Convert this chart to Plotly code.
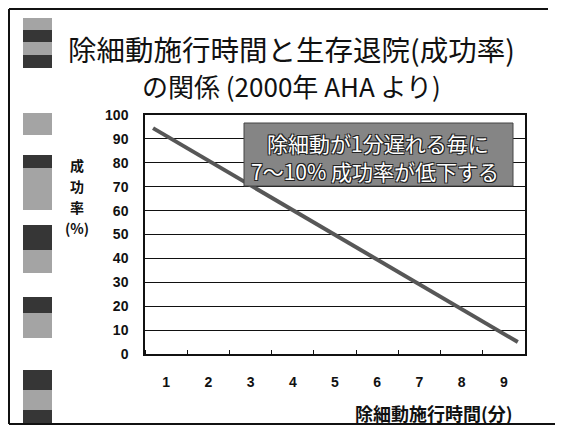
import plotly.graph_objects as go

# ---- data ----
minutes = [1, 2, 3, 4, 5, 6, 7, 8, 9]
minute_labels = ["1", "2", "3", "4", "5", "6", "7", "8", "9"]
y_ticks = [0, 10, 20, 30, 40, 50, 60, 70, 80, 90, 100]
trend_x = [0.69, 9.33]      # ends of the drawn trend line (minutes)
trend_y = [94.5, 5.0]       # success rate (%) at those ends

title_line1 = "除細動施行時間と生存退院(成功率)"
title_line2 = "の関係 (2000年 AHA より)"
box_lines = ["除細動が1分遅れる毎に", "7〜10% 成功率が低下する"]
x_title = "除細動施行時間(分)"
y_title_chars = ["成", "功", "率", "(%)"]

# page offset (body margin) compensation
OFF = 8
W, H = 563 - OFF, 428 - OFF
L, R, T, B = 145, 525, 115, 354   # plot area in window pixels


def px(xp):
    return (xp - L) / (R - L)


def py(yp):
    return (B - yp) / (B - T)


fig = go.Figure()
fig.add_trace(go.Scatter(
    x=trend_x, y=trend_y, mode="lines",
    line=dict(color="#575757", width=4),
    hoverinfo="skip", showlegend=False,
))

num_font = dict(family="Liberation Sans, Arial", size=14, color="#111")

fig.update_layout(
    width=W, height=H,
    margin=dict(l=L - OFF, r=563 - R, t=T - OFF, b=428 - B),
    paper_bgcolor="white", plot_bgcolor="white",
    showlegend=False,
    font=dict(family="Noto Sans CJK JP", color="#111"),
    xaxis=dict(
        range=[0.5, 9.5], tickvals=minutes, ticktext=[f"<b>{t}</b>" for t in minute_labels],
        ticks="", showgrid=False, zeroline=False,
        showline=True, linecolor="#111", linewidth=1.5, mirror=True,
        tickfont=num_font, ticklabelstandoff=14,
        minor=dict(tick0=0.5, dtick=1, ticks="inside", ticklen=4, tickcolor="#111", showgrid=False),
        fixedrange=True,
    ),
    yaxis=dict(
        range=[0, 100], tickvals=y_ticks, ticktext=[f"<b>{v}</b>" for v in y_ticks],
        ticks="", showgrid=True, gridcolor="#111", gridwidth=1, zeroline=False,
        showline=True, linecolor="#111", linewidth=1.5, mirror=True,
        tickfont=num_font, ticklabelstandoff=12,
        fixedrange=True,
    ),
)

shapes = []
# slide frame
frame = dict(type="line", xref="paper", yref="paper", line=dict(color="#111", width=2), layer="above")
shapes.append({**frame, "x0": px(9), "x1": px(9), "y0": py(9), "y1": py(424)})
shapes.append({**frame, "x0": px(9), "x1": px(548), "y0": py(9), "y1": py(9)})
shapes.append({**frame, "x0": px(9), "x1": px(563), "y0": py(424), "y1": py(424)})
shapes.append(dict(type="line", xref="paper", yref="paper", x0=px(556), x1=px(556), y0=py(185), y1=py(345),
                   line=dict(color="#aaa", width=1, dash="dot")))

# decorative blocks on the left
DARK, LIGHT = "#363636", "#a4a4a4"
blocks = [
    (18, 30, LIGHT), (30, 42, DARK), (42, 55, LIGHT), (55, 68, DARK),
    (113, 135, LIGHT),
    (155, 168, DARK), (168, 210, LIGHT),
    (225, 250, DARK), (250, 273, LIGHT),
    (297, 313, DARK), (313, 338, LIGHT),
    (370, 390, DARK), (390, 410, LIGHT), (410, 424, DARK),
]
for y0, y1, c in blocks:
    shapes.append(dict(type="rect", xref="paper", yref="paper",
                       x0=px(23), x1=px(52), y0=py(y1), y1=py(y0),
                       fillcolor=c, line=dict(width=0), layer="below"))

# callout box
shapes.append(dict(type="rect", xref="paper", yref="paper",
                   x0=px(244), x1=px(513), y0=py(186), y1=py(123),
                   fillcolor="#858585", line=dict(color="#444", width=1), layer="above"))
fig.update_layout(shapes=shapes)

ann = []
common = dict(xref="paper", yref="paper", showarrow=False, xanchor="center", yanchor="middle")
ann.append(dict(text=title_line1, x=px(291), y=py(48), **common,
                font=dict(size=28.5, family="Noto Sans CJK JP", color="#111")))
ann.append(dict(text=title_line2, x=px(291), y=py(86), **common,
                font=dict(size=26, family="Noto Sans CJK JP", color="#111")))
box_font = dict(size=21, family="Noto Sans CJK JP", color="white",
                shadow="1px 1px 0 #222, -1px -1px 0 #222, 1px -1px 0 #222, -1px 1px 0 #222")
ann.append(dict(text=box_lines[0], x=px(378), y=py(143), **common, font=box_font))
ann.append(dict(text=box_lines[1], x=px(375), y=py(171), **common, font=box_font))
ann.append(dict(text=f"<b>{x_title}</b>", x=px(434), y=py(413), **common,
                font=dict(size=18, family="Noto Sans CJK JP", color="#111")))
for ch, yy in zip(y_title_chars, [165, 186, 207, 228]):
    ann.append(dict(text=f"<b>{ch}</b>", x=px(77), y=py(yy), **common,
                    font=dict(size=14, family="Noto Sans CJK JP", color="#111")))
fig.update_layout(annotations=ann)

fig.write_html("out.html")
